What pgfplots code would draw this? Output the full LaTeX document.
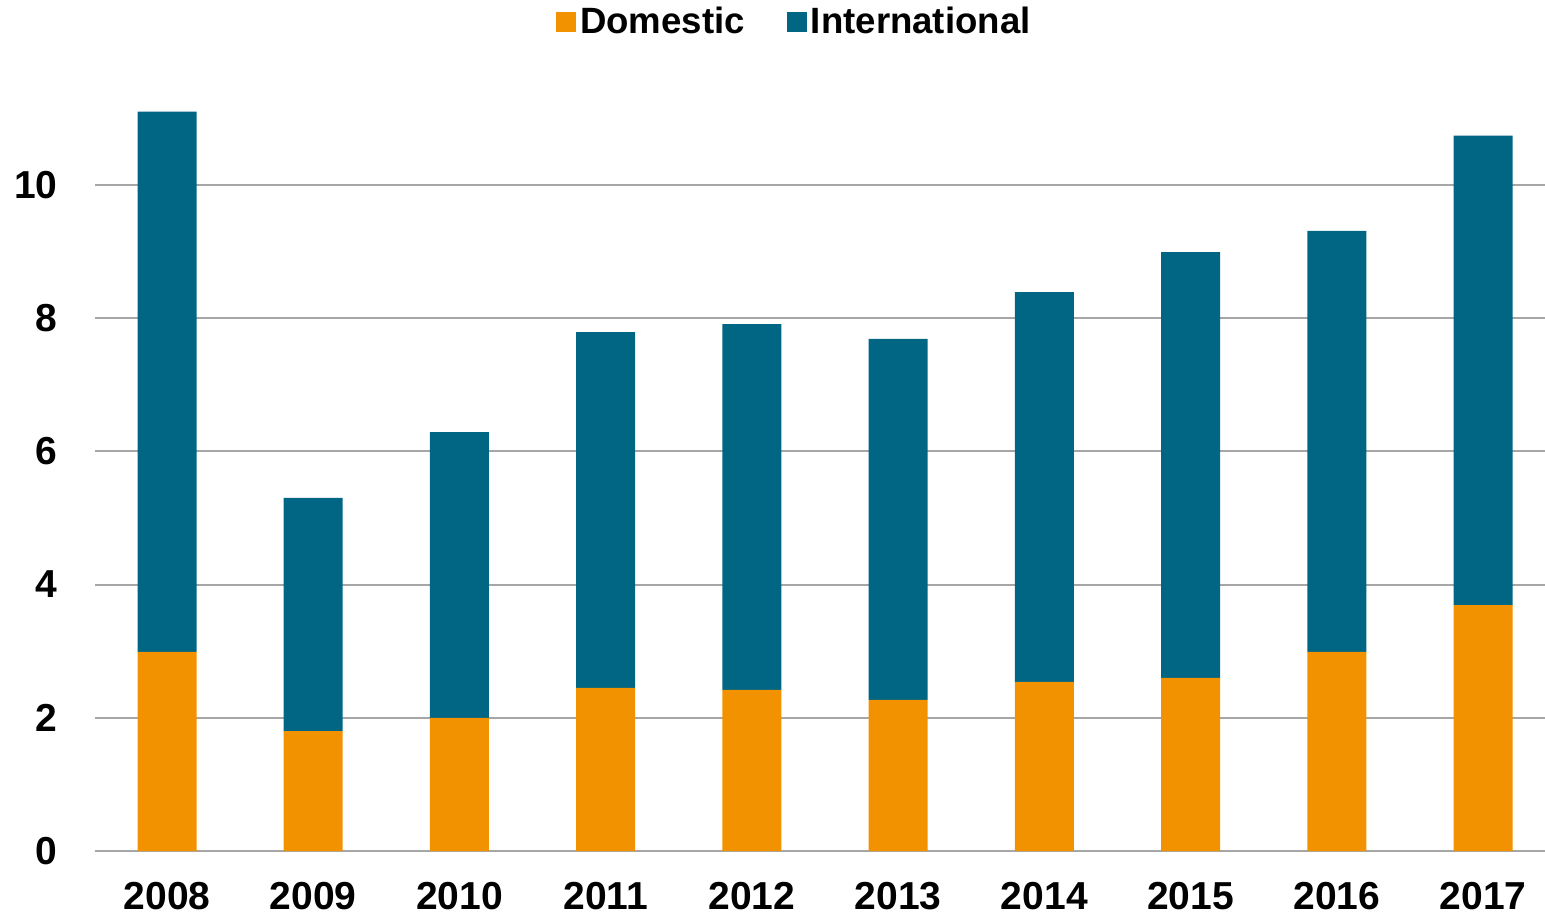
\documentclass[border=0pt]{standalone}
\usepackage{fontspec}
\setmainfont{Liberation Sans}
\usepackage{pgfplots}
\pgfplotsset{compat=1.18}
\definecolor{domestic}{RGB}{243,146,0}
\definecolor{intl}{RGB}{0,102,132}
\definecolor{gridgray}{RGB}{166,166,166}

\begin{document}
\begin{tikzpicture}
% fix page to reference proportions (1px = 0.5pt)
\path[use as bounding box] (-47.5pt,-33pt) rectangle (725pt,425.5pt);
\begin{axis}[
    ybar stacked,
    scale only axis,
    width=725pt,
    height=383pt,
    bar width=29.5pt,
    xmin=-0.4925, xmax=9.424,
    ymin=0, ymax=11.5,
    xtick={0,...,9},
    xticklabels={2008,2009,2010,2011,2012,2013,2014,2015,2016,2017},
    ytick={0,2,4,6,8,10},
    axis x line*=bottom,
    axis y line*=left,
    x axis line style={gridgray, line width=1.3pt},
    y axis line style={draw=none},
    ymajorgrids,
    major grid style={gridgray, line width=1pt},
    tick style={draw=none},
    /pgf/number format/assume math mode=true,
    ticklabel style={font=\fontsize{19.5}{22}\selectfont\bfseries, inner sep=0pt},
    yticklabel style={anchor=east, xshift=-18.5pt},
    xticklabel style={anchor=north, yshift=-15.5pt},
    legend columns=2,
    legend style={
        at={(axis description cs:0.483,1.082)}, anchor=center,
        draw=none, fill=none, inner sep=0pt,
        font=\fontsize{18.3}{21}\selectfont\bfseries,
        nodes={inner sep=2pt},
        /tikz/every even column/.append style={column sep=19pt},
    },
    legend image code/.code={\fill[#1] (0pt,-5pt) rectangle (10pt,5pt);},
]
\addplot[fill=domestic, draw=none] coordinates {
    (0,2.99) (1,1.80) (2,2.00) (3,2.45) (4,2.42)
    (5,2.27) (6,2.54) (7,2.60) (8,2.99) (9,3.69)
};
\addplot[fill=intl, draw=none] coordinates {
    (0,8.11) (1,3.50) (2,4.29) (3,5.34) (4,5.49)
    (5,5.42) (6,5.85) (7,6.39) (8,6.32) (9,7.05)
};
\legend{Domestic, International}
\end{axis}
\end{tikzpicture}
\end{document}
